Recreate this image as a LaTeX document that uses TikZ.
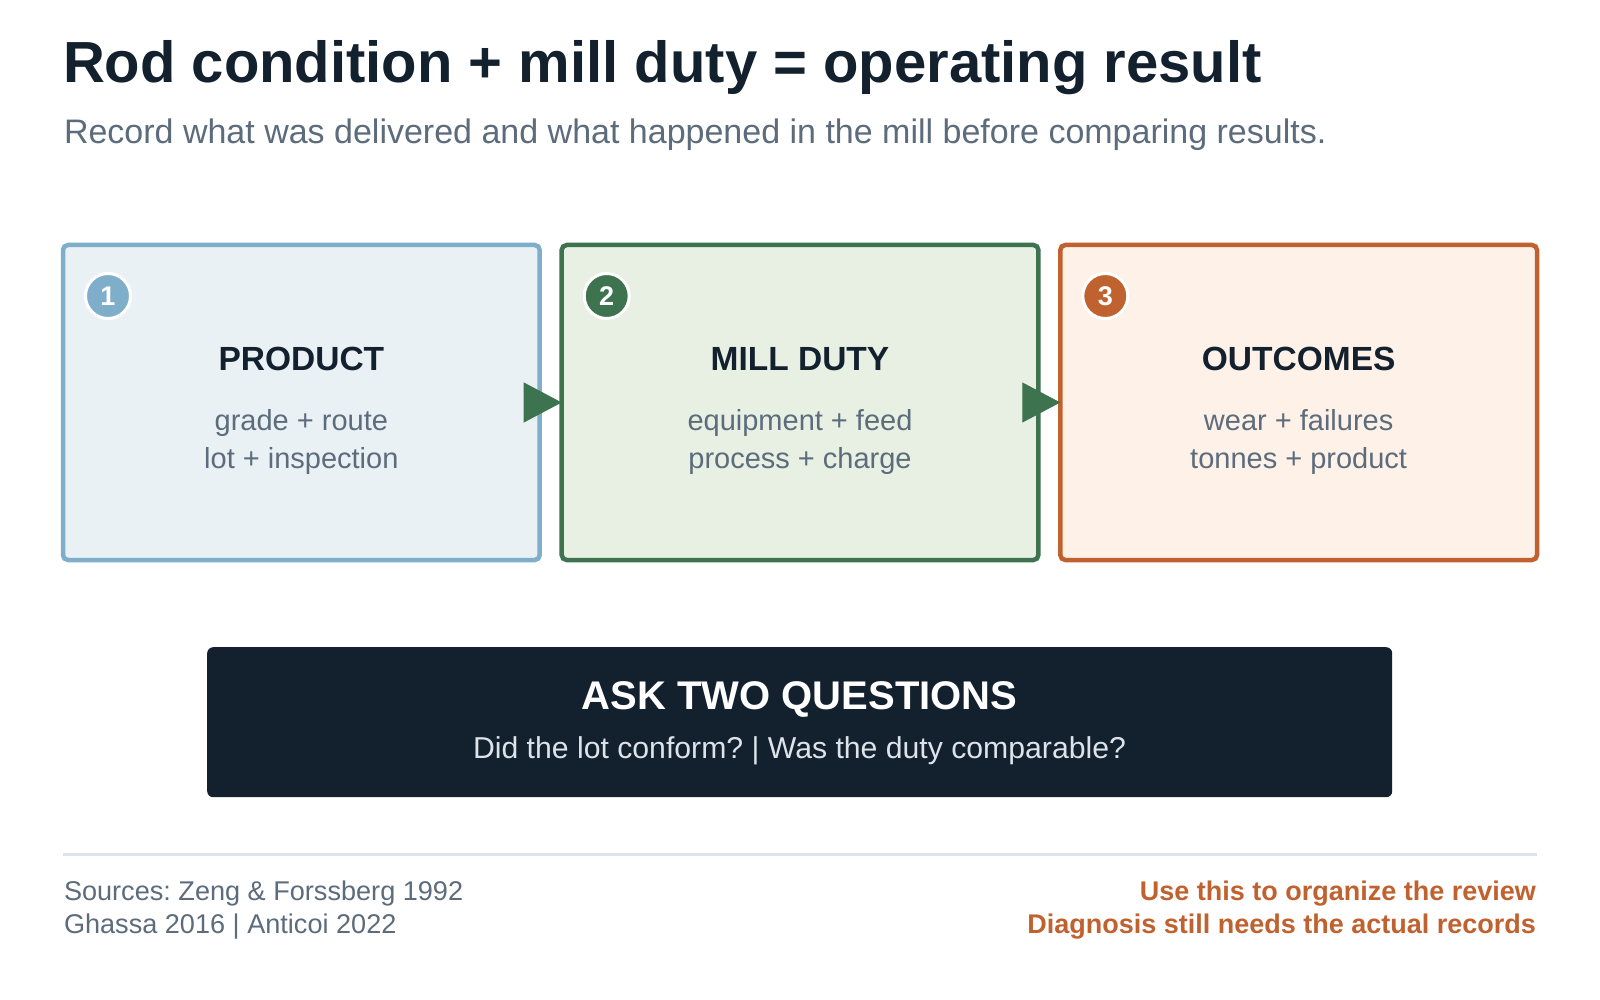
\documentclass[tikz,border=0pt]{standalone}
\usepackage{fontspec}
\setmainfont{Liberation Sans}
\usetikzlibrary{arrows.meta}
\frenchspacing
\definecolor{ink}{HTML}{13202D}
\definecolor{muted}{HTML}{5C6C7C}
\definecolor{blueB}{HTML}{7FAECB}
\definecolor{blueF}{HTML}{EAF1F5}
\definecolor{greenB}{HTML}{3E7350}
\definecolor{greenF}{HTML}{E8F0E3}
\definecolor{orangeB}{HTML}{C0622F}
\definecolor{orangeF}{HTML}{FEF1E8}
\definecolor{rule}{HTML}{DDE3EA}
\definecolor{pale}{HTML}{DDE3EA}
\tikzset{
  fs/.style={font=\fontsize{#1}{#1}\selectfont},
  txt/.style={inner sep=0pt, outer sep=0pt},
  card/.style={rectangle, rounded corners=5pt, line width=4.5pt, outer sep=0pt,
    minimum width=476.7pt, minimum height=315pt, anchor=north west},
  badge/.style={circle, draw=white, line width=3pt, minimum size=45pt, inner sep=0pt,
    text=white, font=\fontsize{27}{27}\selectfont\bfseries},
  headtxt/.style={txt, anchor=base, text=ink, font=\fontsize{33.5}{33.5}\selectfont\bfseries},
  bodytxt/.style={txt, anchor=base, text=muted, font=\fontsize{29}{29}\selectfont},
  flow/.style={draw=greenB, line width=1pt, -{Triangle[length=38pt,width=40pt]}},
}
\begin{document}
\frenchspacing
\begin{tikzpicture}[x=1pt,y=-1pt]
\useasboundingbox[fill=white] (0,0) rectangle (1600,1000);

% title
\node[txt, anchor=base west, text=ink, font=\fontsize{58}{58}\selectfont\bfseries] (title) at (63,83) {Rod condition + mill duty = operating result};
\node[txt, anchor=base west, text=muted, fs=34] (subtitle) at (64,144) {Record what was delivered and what happened in the mill before comparing results.};

% cards
\node[card, draw=blueB, fill=blueF] (b1) at (63,245) {};
\node[card, draw=greenB, fill=greenF] (b2) at (561.7,245) {};
\node[card, draw=orangeB, fill=orangeF] (b3) at (1060.3,245) {};

% badges
\node[badge, fill=blueB] (n1) at (108,296) {1};
\node[badge, fill=greenB] (n2) at (606.7,296) {2};
\node[badge, fill=orangeB] (n3) at (1105.3,296) {3};

% card texts
\node[headtxt] (h1) at (301.35,370) {PRODUCT};
\node[bodytxt] (t1a) at (301.35,430) {grade + route};
\node[bodytxt] (t1b) at (301.35,468) {lot + inspection};

\node[headtxt] (h2) at (800,370) {MILL DUTY};
\node[bodytxt] (t2a) at (800,430) {equipment + feed};
\node[bodytxt] (t2b) at (800,468) {process + charge};

\node[headtxt] (h3) at (1298.65,370) {OUTCOMES};
\node[bodytxt] (t3a) at (1298.65,430) {wear + failures};
\node[bodytxt] (t3b) at (1298.65,468) {tonnes + product};

% connectors
\draw[flow] (b1.east) -- (b2.west);
\draw[flow] (b2.east) -- (b3.west);

% question box
\node[rectangle, rounded corners=6pt, fill=ink, minimum width=1185pt, minimum height=150pt, anchor=north west, inner sep=0pt] (q) at (207,647) {};
\node[txt, anchor=base, text=white, font=\fontsize{40}{40}\selectfont\bfseries] (qh) at (799.5,709) {ASK TWO QUESTIONS};
\node[txt, anchor=base, text=pale, fs=30.2] (qs) at (799.5,758) {Did the lot conform? | Was the duty comparable?};

% rule
\coordinate (rl) at (63,854);
\coordinate (rr) at (1537,854);
\draw[rule, line width=3pt] (rl) -- (rr);

% footer
\node[txt, anchor=base west, text=muted, fs=27.1] (s1) at (64,900) {Sources: Zeng \& Forssberg 1992};
\node[txt, anchor=base west, text=muted, fs=27.1] (s2) at (64,933) {Ghassa 2016 | Anticoi 2022};
\node[txt, anchor=base east, text=orangeB, font=\fontsize{27}{27}\selectfont\bfseries] (r1) at (1536,900) {Use this to organize the review};
\node[txt, anchor=base east, text=orangeB, font=\fontsize{27}{27}\selectfont\bfseries] (r2) at (1536,933) {Diagnosis still needs the actual records};
\end{tikzpicture}
\end{document}
